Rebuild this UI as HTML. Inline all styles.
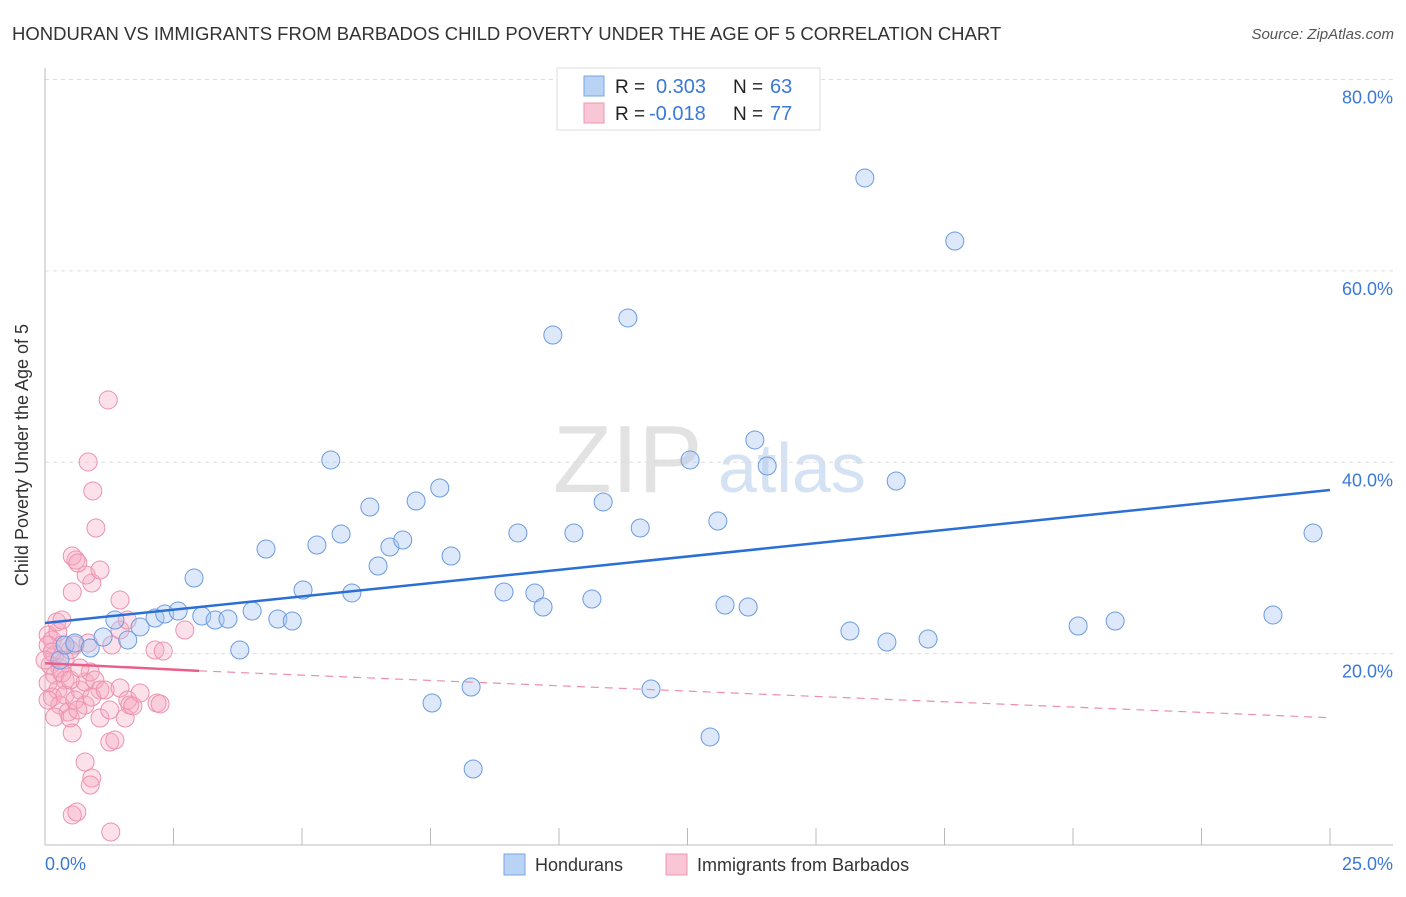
<!DOCTYPE html>
<html><head><meta charset="utf-8"><style>
body{margin:0;background:#fff;font-family:"Liberation Sans",sans-serif;}
svg text{font-family:"Liberation Sans",sans-serif;}
</style></head><body>
<svg id="c" width="1406" height="892" xmlns="http://www.w3.org/2000/svg">
<text x="12" y="40" font-size="18.5" fill="#333">HONDURAN VS IMMIGRANTS FROM BARBADOS CHILD POVERTY UNDER THE AGE OF 5 CORRELATION CHART</text>
<text x="1394" y="39" font-size="15" fill="#555" font-style="italic" text-anchor="end">Source: ZipAtlas.com</text>
<text x="553" y="492" font-size="96" fill="#e2e2e2" font-family="Liberation Serif">ZIP</text>
<text x="718" y="492" font-size="70" fill="#d4e2f4">atlas</text>
<g id="grid"></g>
<line x1="45" y1="68" x2="45" y2="845" stroke="#bbb"/>
<line x1="45" y1="845" x2="1393" y2="845" stroke="#bbb"/>
<text x="28" y="455" font-size="18" fill="#333" text-anchor="middle" transform="rotate(-90 28 455)">Child Poverty Under the Age of 5</text>
<text x="45" y="870" font-size="18" fill="#3b78d8">0.0%</text>
<text x="1393" y="870" font-size="18" fill="#3b78d8" text-anchor="end">25.0%</text>
<g id="pts"></g>
<g id="lines"></g>
<g>
<rect x="557" y="68" width="263" height="62" fill="#fff" stroke="#ddd"/>
<rect x="584" y="76" width="20" height="20" fill="#b9d3f5" stroke="#7aa6e3"/>
<rect x="584" y="103" width="20" height="20" fill="#f9c6d6" stroke="#ec97b3"/>
<text x="615" y="93" font-size="19" fill="#222">R = </text><text x="656" y="93" font-size="20" fill="#3b78d8">0.303</text>
<text x="733" y="93" font-size="19" fill="#222">N = </text><text x="770" y="93" font-size="20" fill="#3b78d8">63</text>
<text x="615" y="120" font-size="19" fill="#222">R = </text><text x="649" y="120" font-size="20" fill="#3b78d8">-0.018</text>
<text x="733" y="120" font-size="19" fill="#222">N = </text><text x="770" y="120" font-size="20" fill="#3b78d8">77</text>
</g>
<g>
<rect x="504" y="854" width="21" height="21" fill="#b9d3f5" stroke="#7aa6e3"/>
<text x="535" y="871" font-size="18" fill="#333">Hondurans</text>
<rect x="666" y="854" width="21" height="21" fill="#f9c6d6" stroke="#ec97b3"/>
<text x="697" y="871" font-size="18" fill="#333">Immigrants from Barbados</text>
</g>
</svg>
<script>
const yTicks=[20,40,60,80];
const xTicks=[0,2.5,5,7.5,10,12.5,15,17.5,20,22.5,25];
const bluePx=[[60,660],[65,645],[75,643],[90,648],[103,637],[115,620],[128,640],[140,627],[155,618],[165,614],[178,611],[194,578],[202,616],[215,620],[228,619],[240,650],[252,611],[266,549],[278,619],[292,621],[303,590],[317,545],[331,460],[341,534],[352,593],[370,507],[378,566],[390,547],[403,540],[416,501],[440,488],[451,556],[432,703],[471,687],[473,769],[504,592],[518,533],[535,593],[543,607],[553,335],[574,533],[592,599],[603,502],[628,318],[640,528],[651,689],[690,460],[710,737],[718,521],[725,605],[748,607],[755,440],[767,466],[850,631],[865,178],[887,642],[896,481],[928,639],[955,241],[1078,626],[1115,621],[1273,615],[1313,533]];
const pinkPx=[[48,635],[52,640],[58,632],[62,645],[55,655],[50,665],[60,668],[65,660],[55,675],[48,683],[70,650],[75,645],[65,680],[58,690],[52,697],[60,705],[68,712],[55,717],[70,718],[48,700],[65,695],[80,690],[85,682],[90,672],[95,680],[100,690],[75,700],[85,705],[78,710],[92,697],[100,718],[105,690],[110,710],[120,688],[128,700],[130,705],[125,718],[133,706],[140,693],[157,703],[160,704],[155,650],[120,630],[127,620],[112,645],[72,733],[85,762],[92,778],[90,785],[110,742],[115,740],[72,815],[77,812],[111,832],[72,592],[57,622],[62,620],[48,645],[52,652],[45,660],[62,673],[70,680],[88,643],[80,668],[185,630],[163,651],[92,583],[86,575],[120,600],[100,570],[76,560],[108,400],[88,462],[93,491],[96,528],[72,556],[78,563]];
const blueX=bluePx.map(p=>+((p[0]-45)/1285*25).toFixed(2));
const blueY=bluePx.map(p=>+((845-p[1])/765.5*80).toFixed(2));
const pinkX=pinkPx.map(p=>+((p[0]-45)/1285*25).toFixed(2));
const pinkY=pinkPx.map(p=>+((845-p[1])/765.5*80).toFixed(2));
const blueTrend=[23.2,37.1];
const pinkTrend=[19.0,18.2,13.3];
const X=v=>45+v/25*1285, Y=v=>845-v/80*765.5;
const NS="http://www.w3.org/2000/svg";
function mk(t,a,p){const e=document.createElementNS(NS,t);for(const k in a)e.setAttribute(k,a[k]);p.appendChild(e);return e;}
const grid=document.getElementById('grid');
yTicks.forEach(t=>{
 const l=mk('line',{x1:45,x2:1393,y1:Y(t),y2:Y(t),stroke:'#ddd','stroke-dasharray':'4,4'},grid);
 
 
 const tx=mk('text',{x:1393,y:Y(t)+24,'font-size':18,fill:'#3b78d8','text-anchor':'end'},grid);
 tx.textContent=t.toFixed(1)+'%';
 
 
});
xTicks.forEach(t=>{
 const l=mk('line',{x1:X(t),x2:X(t),y1:828,y2:845,stroke:'#bbb'},grid);
 
 
});
const pts=document.getElementById('pts');
pinkX.forEach((x,i)=>{
 const c=mk('circle',{cx:X(x),cy:Y(pinkY[i]),r:9,fill:'rgba(245,170,195,0.35)',stroke:'#ec92ad','stroke-width':1},pts);
 
 
});
blueX.forEach((x,i)=>{
 const c=mk('circle',{cx:X(x),cy:Y(blueY[i]),r:9,fill:'rgba(170,200,242,0.4)',stroke:'#6b9be0','stroke-width':1},pts);
 
 
});
const lines=document.getElementById('lines');
const bl=mk('line',{x1:X(0),y1:Y(blueTrend[0]),x2:X(25),y2:Y(blueTrend[1]),stroke:'#2a6fd6','stroke-width':2.5},lines);


const pl=mk('line',{x1:X(0),y1:Y(pinkTrend[0]),x2:X(3),y2:Y(pinkTrend[1]),stroke:'#e8608a','stroke-width':2.5},lines);


const pd=mk('line',{x1:X(3),y1:Y(pinkTrend[1]),x2:X(25),y2:Y(pinkTrend[2]),stroke:'#ec8fab','stroke-width':1.2,'stroke-dasharray':'8,6'},lines);


</script>
</body></html>
